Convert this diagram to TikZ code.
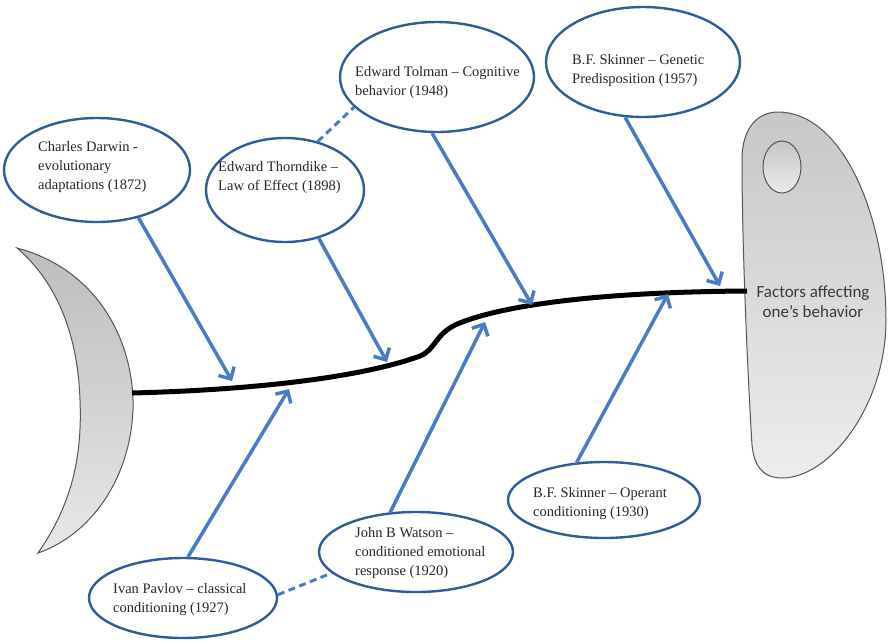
\documentclass[tikz,border=0pt]{standalone}
\usepackage{fontspec}
\setmainfont{Liberation Serif}
\newfontfamily\headfont{Carlito}
\usetikzlibrary{shapes.geometric,arrows.meta}

\definecolor{arrowblue}{RGB}{72,125,198}
\definecolor{rimblue}{RGB}{48,92,152}
\definecolor{inkgray}{RGB}{38,38,38}
\definecolor{bonegray}{RGB}{85,85,85}

\tikzset{
  bubble/.style={ellipse, draw=rimblue, line width=2.4pt, fill=white, inner sep=0pt},
  btext/.style={anchor=west, align=left, inner sep=0pt, text=inkgray,
                font=\fontsize{14.5}{19}\selectfont},
  arrowline/.style={draw=arrowblue, line width=3.5pt,
                -{Straight Barb[length=9pt,width=18pt,line width=3.5pt]}},
  dashlink/.style={draw=arrowblue, line width=3pt, dash pattern=on 7pt off 4.5pt},
  bone/.style={draw=bonegray, line width=1pt},
  spine/.style={draw=black, line width=5pt}
}

\begin{document}
\begin{tikzpicture}[x=1pt,y=-1pt]
\useasboundingbox (0,0) rectangle (889,641);

% tail fin
\path[bone, top color=gray!52, bottom color=gray!18]
  (17,248) .. controls (100,270) and (135,345) .. (133,410)
  .. controls (130,480) and (90,535) .. (38,553)
  .. controls (75,500) and (82,450) .. (80,400)
  .. controls (78,340) and (60,285) .. (17,248) -- cycle;

% head
\path[bone, top color=gray!44, bottom color=gray!14]
  (742,160) .. controls (742,125) and (760,112) .. (778,112)
  .. controls (842,112) and (886,215) .. (886,320)
  .. controls (886,405) and (830,478) .. (782,478)
  .. controls (762,478) and (754,465) .. (752,445)
  .. controls (748,380) and (742,250) .. (742,160) -- cycle;
% eye
\path[bone, top color=gray!45, bottom color=gray!15]
  (782,167) ellipse [x radius=19, y radius=26];
\node[text=black!78, align=center, font=\headfont\fontsize{17}{20}\selectfont]
  (head) at (813,302) {Factors affecting\\one’s behavior};

% spine
\coordinate (tail) at (132,393);
\coordinate (neck) at (747,291);
\draw[spine] (tail) .. controls (250,390) and (360,378) .. (420,356)
  .. controls (435,350) and (435,335) .. (455,325)
  .. controls (500,305) and (600,292) .. (neck);

% points where the bones meet the spine
\coordinate (tipDarwin)    at (232,381);
\coordinate (tipThorndike) at (387,362);
\coordinate (tipTolman)    at (532,305);
\coordinate (tipGenetic)   at (720,286);
\coordinate (tipPavlov)    at (289,389);
\coordinate (tipWatson)    at (485,322);
\coordinate (tipOperant)   at (668,294);

% cause bubbles
\node[bubble, minimum width=186pt, minimum height=104pt] (darwin)    at (97,170) {};
\node[bubble, minimum width=158pt, minimum height=104pt] (thorndike) at (285,190) {};
\node[bubble, minimum width=194pt, minimum height=110pt] (tolman)    at (437,77) {};
\node[bubble, minimum width=194pt, minimum height=110pt] (genetic)   at (643,62) {};
\node[bubble, minimum width=188pt, minimum height=80pt]  (pavlov)    at (183,598) {};
\node[bubble, minimum width=194pt, minimum height=80pt]  (watson)    at (416,552) {};
\node[bubble, minimum width=192pt, minimum height=76pt]  (operant)   at (604,500) {};

\node[btext] (darwinT)    at (38,167)  {Charles Darwin -\\evolutionary\\adaptations (1872)};
\node[btext] (thorndikeT) at (218,178) {Edward Thorndike –\\Law of Effect (1898)};
\node[btext] (tolmanT)    at (355,83)  {Edward Tolman – Cognitive\\behavior (1948)};
\node[btext] (geneticT)   at (572,71)  {B.F. Skinner – Genetic\\Predisposition (1957)};
\node[btext] (pavlovT)    at (113,600) {Ivan Pavlov – classical\\conditioning (1927)};
\node[btext] (watsonT)    at (355,553) {John B Watson –\\conditioned emotional\\response (1920)};
\node[btext] (operantT)   at (533,504) {B.F. Skinner – Operant\\conditioning (1930)};

% bones
\draw[arrowline] (darwin.-49)    -- (tipDarwin);
\draw[arrowline] (thorndike.-55) -- (tipThorndike);
\draw[arrowline] (tolman.-95)    -- (tipTolman);
\draw[arrowline] (genetic.-108)  -- (tipGenetic);
\draw[arrowline] (pavlov.83)     -- (tipPavlov);
\draw[arrowline] (watson.123)    -- (tipWatson);
\draw[arrowline] (operant.126)   -- (tipOperant);

% dashed links between related bubbles
\draw[dashlink] (thorndike.56) -- (tolman.200);
\draw[dashlink] (pavlov.2) -- (watson.194);
\end{tikzpicture}
\end{document}
